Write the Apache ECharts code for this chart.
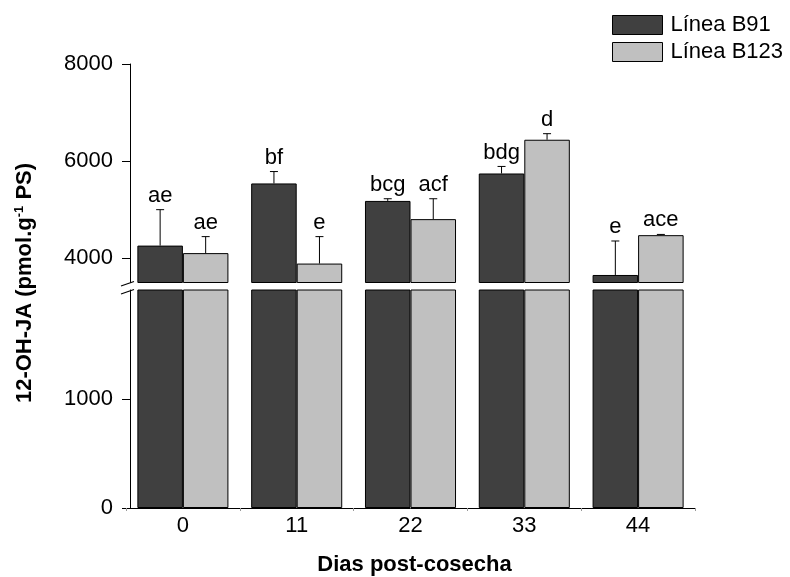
<!DOCTYPE html>
<html><head><meta charset="utf-8">
<script src="https://cdn.jsdelivr.net/npm/echarts@6/dist/echarts.min.js"></script>
<style>html,body{margin:0;padding:0;background:#fff}#c{width:790px;height:577px}</style>
</head><body><div id="c"></div>
<script>
const categories = ['0', '11', '22', '33', '44'];
const b91 = [4260, 5540, 5180, 5745, 3655];
const b91Err = [5000, 5785, 5225, 5890, 4355];
const b123 = [4105, 3890, 4805, 6440, 4475];
const b123Err = [4445, 4445, 5225, 6565, 4490];
const b91Letters = ['ae', 'bf', 'bcg', 'bdg', 'e'];
const b123Letters = ['ae', 'e', 'acf', 'd', 'ace'];
const upperTicks = [4000, 6000, 8000];
const lowerTicks = [0, 1000];

const FONT = 'Liberation Sans, Arial, Helvetica, sans-serif';
const DARK = '#404040', LIGHT = '#c0c0c0';

function errRender(side, letters) {
  return function (params, api) {
    const i = api.value(0);
    const base = api.coord([i, api.value(1)]);
    const top = api.coord([i, api.value(2)]);
    const band = api.size([1, 0])[0];
    const bw = band * 0.4;
    const x = base[0] + side * bw / 2;
    const ls = { stroke: '#000', lineWidth: 1 };
    return {
      type: 'group',
      children: [
        { type: 'line', shape: { x1: x, y1: base[1], x2: x, y2: top[1] }, style: ls },
        { type: 'line', shape: { x1: x - 4, y1: top[1], x2: x + 4, y2: top[1] }, style: ls },
        { type: 'text', style: { x: x, y: top[1] - 3, text: letters[params.dataIndex], textAlign: 'center', textVerticalAlign: 'bottom', fontSize: 22, fontFamily: FONT, fill: '#000' } }
      ]
    };
  };
}

const chart = echarts.init(document.getElementById('c'), null, { renderer: 'canvas' });
const grids = [
  { left: 126, right: 95, top: 64, height: 218.5 },
  { left: 126, right: 95, top: 290, height: 219 }
];
const barStyle = (c) => ({ color: c, borderColor: '#000', borderWidth: 1 });
const plain = (v) => String(v);

chart.setOption({
  backgroundColor: '#fff',
  animation: false,
  textStyle: { fontFamily: FONT },
  grid: grids,
  legend: {
    orient: 'vertical', left: 607, top: 9, itemWidth: 50, itemHeight: 19, itemGap: 5,
    icon: 'rect',
    itemStyle: { borderColor: '#000', borderWidth: 1 },
    textStyle: { fontSize: 22, color: '#000', fontFamily: FONT, padding: [0, 0, 0, 3] },
    data: ['Línea B91', 'Línea B123']
  },
  xAxis: [
    { type: 'category', gridIndex: 0, data: categories, show: false },
    {
      type: 'category', gridIndex: 1, data: categories,
      axisLine: { lineStyle: { color: '#000', width: 1 } },
      axisTick: { show: true, length: 3, lineStyle: { color: '#999' } },
      axisLabel: { color: '#000', fontSize: 22, margin: 7, fontFamily: FONT },
      name: 'Dias post-cosecha', nameLocation: 'middle', nameGap: 46,
      nameTextStyle: { color: '#000', fontSize: 22, fontWeight: 'bold', fontFamily: FONT, padding: [0, 0, 0, 8] }
    }
  ],
  yAxis: [
    {
      type: 'value', gridIndex: 0, min: 3500, max: 8000, offset: -4,
      axisLine: { show: true, lineStyle: { color: '#000', width: 1 } },
      axisTick: { show: true, length: 8, customValues: upperTicks, lineStyle: { color: '#000' } },
      axisLabel: { color: '#000', fontSize: 22, margin: 17, customValues: upperTicks, fontFamily: FONT, formatter: plain },
      splitLine: { show: false }
    },
    {
      type: 'value', gridIndex: 1, min: 0, max: 2000, offset: -4,
      axisLine: { show: true, lineStyle: { color: '#000', width: 1 } },
      axisTick: { show: true, length: 8, customValues: lowerTicks, lineStyle: { color: '#000' } },
      axisLabel: { color: '#000', fontSize: 22, margin: 17, customValues: lowerTicks, fontFamily: FONT, formatter: plain },
      splitLine: { show: false }
    }
  ],
  series: [
    { name: 'Línea B91', type: 'bar', xAxisIndex: 0, yAxisIndex: 0, data: b91, barGap: '0%', barCategoryGap: '20%', itemStyle: barStyle(DARK), clip: true },
    { name: 'Línea B123', type: 'bar', xAxisIndex: 0, yAxisIndex: 0, data: b123, barGap: '0%', barCategoryGap: '20%', itemStyle: barStyle(LIGHT), clip: true },
    { name: 'Línea B91', type: 'bar', xAxisIndex: 1, yAxisIndex: 1, data: b91, barGap: '0%', barCategoryGap: '20%', itemStyle: barStyle(DARK), clip: true },
    { name: 'Línea B123', type: 'bar', xAxisIndex: 1, yAxisIndex: 1, data: b123, barGap: '0%', barCategoryGap: '20%', itemStyle: barStyle(LIGHT), clip: true },
    {
      type: 'custom', xAxisIndex: 0, yAxisIndex: 0, z: 5,
      renderItem: errRender(-1, b91Letters),
      encode: { x: 0, y: [1, 2] },
      data: b91.map((v, i) => [i, v, b91Err[i]])
    },
    {
      type: 'custom', xAxisIndex: 0, yAxisIndex: 0, z: 5,
      renderItem: errRender(1, b123Letters),
      encode: { x: 0, y: [1, 2] },
      data: b123.map((v, i) => [i, v, b123Err[i]])
    }
  ],
  graphic: [
    {
      type: 'text', x: 25, y: 283, rotation: Math.PI / 2,
      style: {
        text: '{a|12-OH-JA (pmol.g}{s|-1}{a| PS)}',
        textAlign: 'center', textVerticalAlign: 'middle',
        rich: {
          a: { fontSize: 22, fontWeight: 'bold', fontFamily: FONT, fill: '#000', lineHeight: 24 },
          s: { fontSize: 13, fontWeight: 'bold', fontFamily: FONT, fill: '#000', verticalAlign: 'top', lineHeight: 24 }
        }
      }
    },
    { type: 'line', shape: { x1: 121, y1: 286, x2: 134, y2: 281.5 }, style: { stroke: '#000', lineWidth: 1.2 } },
    { type: 'line', shape: { x1: 121, y1: 294, x2: 134, y2: 289.5 }, style: { stroke: '#000', lineWidth: 1.2 } }
  ]
});
</script>
</body></html>
